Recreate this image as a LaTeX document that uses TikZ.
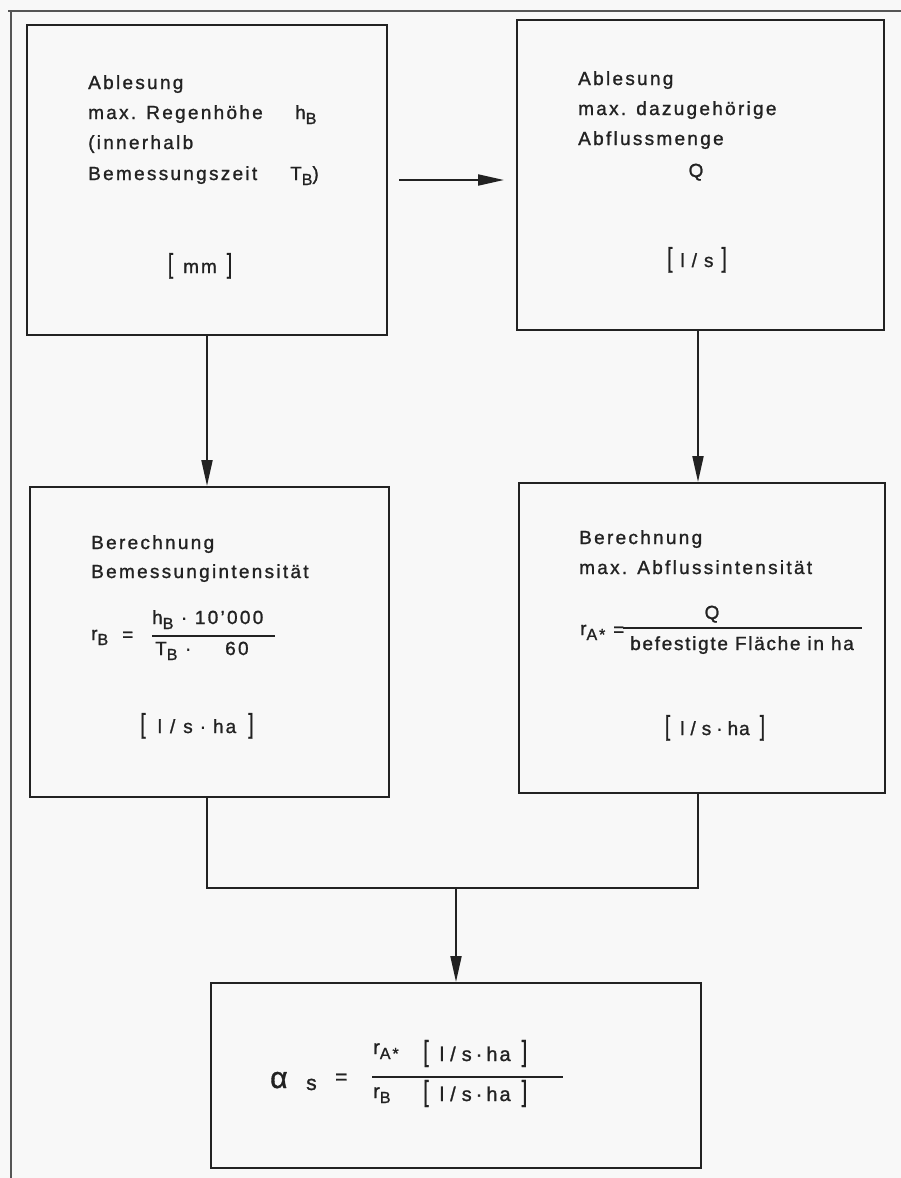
\documentclass[tikz,border=0pt]{standalone}
\usepackage{fontspec}
\setmainfont[LetterSpace=12, FakeBold=1.2]{Liberation Sans}
\newfontfamily\tightfont[LetterSpace=9, FakeBold=1.2]{Liberation Sans}
\usetikzlibrary{arrows.meta}
\definecolor{ink}{HTML}{222222}
\definecolor{paper}{HTML}{F8F8F8}
\definecolor{framec}{HTML}{555555}
\newcommand\sbs[1]{\raisebox{-5pt}{\fontsize{16}{16}\selectfont #1}}
\newcommand\lbr{\scalebox{1}[1.45]{[}}
\newcommand\rbr{\scalebox{1}[1.45]{]}}
\newcommand\brk[2]{\lbr\hspace{#1}#2\hspace{#1}\rbr}
\tikzset{
  box/.style={draw=ink, line width=2pt, rectangle, inner sep=0pt},
  conn/.style={draw=ink, line width=2pt, -{Triangle[length=26pt,width=11pt]}},
  plain/.style={draw=ink, line width=2pt},
  txt/.style={anchor=base west, inner sep=0pt, text=ink, font=\fontsize{19}{23}\selectfont},
  ctxt/.style={txt, anchor=base},
  stxt/.style={txt, font=\fontsize{20}{23}\selectfont},
  framel/.style={draw=framec, line width=1.2pt},
  bar/.style={draw=ink, line width=1.5pt}
}
\begin{document}
\begin{tikzpicture}[x=1pt,y=-1pt]
\fill[paper] (0,0) rectangle (901,1178);
\useasboundingbox (0,0) rectangle (901,1178);
% frame
\draw[framel] (8,11) -- (901,11);
\draw[framel] (11,11) -- (11,1178);
% boxes
\node[box, minimum width=360pt, minimum height=310pt] (b1) at (207,180) {};
\node[box, minimum width=367pt, minimum height=310pt] (b2) at (700.5,175) {};
\node[box, minimum width=359pt, minimum height=310pt] (b3) at (209.5,642) {};
\node[box, minimum width=366pt, minimum height=310pt] (b4) at (702,638) {};
\node[box, minimum width=490pt, minimum height=185pt] (b5) at (456,1075.5) {};
% box 1 text
\node[txt] (t1a) at (88,89) {Ablesung};
\node[txt] (t1b) at (88,119) {max. Regenhöhe};
\node[txt] (t1c) at (295,119) {h\sbs{B}};
\node[txt] (t1d) at (88,149) {(innerhalb};
\node[txt] (t1e) at (88,180) {Bemessungszeit};
\node[txt] (t1f) at (290,180) {T\sbs{B})};
\node[ctxt] (t1g) at (200,273) {\brk{10pt}{m\hspace{2pt}m}};
% box 2 text
\node[txt] (t2a) at (578,85) {Ablesung};
\node[txt] (t2b) at (578,115) {max. dazugehörige};
\node[txt] (t2c) at (578,145) {Abflussmenge};
\node[ctxt] (t2d) at (696,177) {Q};
\node[ctxt] (t2e) at (697,267) {\brk{8pt}{l\hspace{7pt}/\hspace{7pt}s}};
% box 3 text
\node[txt] (t3a) at (91,549) {Berechnung};
\node[txt] (t3b) at (91,578) {Bemessungintensität};
\node[txt] (t3c) at (91,640) {r\sbs{B}};
\node[txt] (t3d) at (122,641) {=};
\draw[bar] (152,636) -- (275,636);
\node[txt] (t3e) at (152,624) {h\sbs{B} · 10'000};
\node[txt] (t3f) at (155,655) {T\sbs{B} ·};
\node[txt] (t3g) at (225,655) {60};
\node[ctxt] (t3h) at (197,733) {\brk{12pt}{l\hspace{8pt}/\hspace{8pt}s\hspace{7pt}·\hspace{7pt}h\hspace{2pt}a}};
% box 4 text
\node[txt] (t4a) at (579,544) {Berechnung};
\node[txt] (t4b) at (579,574) {max. Abflussintensität};
\node[txt] (t4c) at (580,635) {r\sbs{A*}};
\node[txt] (t4d) at (613,636) {=};
\draw[bar] (623,628) -- (862,628);
\node[ctxt] (t4e) at (712,619) {Q};
\node[txt, font=\tightfont\fontsize{19}{23}\selectfont] (t4f) at (630,650) {befestigte Fläche in ha};
\node[ctxt] (t4g) at (715,735) {\brk{10pt}{l\hspace{6pt}/\hspace{6pt}s\hspace{5pt}·\hspace{5pt}h\hspace{1pt}a}};
% box 5 text
\node[txt, font=\fontsize{30}{32}\selectfont] (t5a) at (270,1088) {α};
\node[txt, font=\fontsize{21}{24}\selectfont] (t5b) at (306,1090) {s};
\node[txt, font=\fontsize{21}{24}\selectfont] (t5c) at (335,1084) {=};
\draw[bar] (372,1077) -- (563,1077);
\node[stxt] (t5d) at (373,1054) {r\sbs{A*}};
\node[stxt] (t5e) at (423,1061) {\brk{11pt}{l\hspace{6pt}/\hspace{6pt}s\hspace{4pt}·\hspace{4pt}h\hspace{2pt}a}};
\node[stxt] (t5f) at (373,1098) {r\sbs{B}};
\node[stxt] (t5g) at (423,1101) {\brk{11pt}{l\hspace{6pt}/\hspace{6pt}s\hspace{4pt}·\hspace{4pt}h\hspace{2pt}a}};
% connectors
\coordinate (c1) at (b1.south);
\coordinate (c2) at ([xshift=-2.5pt]b2.south);
\coordinate (m) at (456,888);
\draw[conn] (c1) -- (c1 |- b3.north);
\draw[conn] ([xshift=11pt]b1.east) -- ([xshift=-12pt]b2.west |- b1.east);
\draw[conn] (c2) -- (c2 |- b4.north);
\draw[plain] (c1 |- b3.south) -- (c1 |- m) -- (c2 |- m) -- (c2 |- b4.south);
\draw[conn] (b5.north |- m) -- (b5.north);
\end{tikzpicture}
\end{document}
